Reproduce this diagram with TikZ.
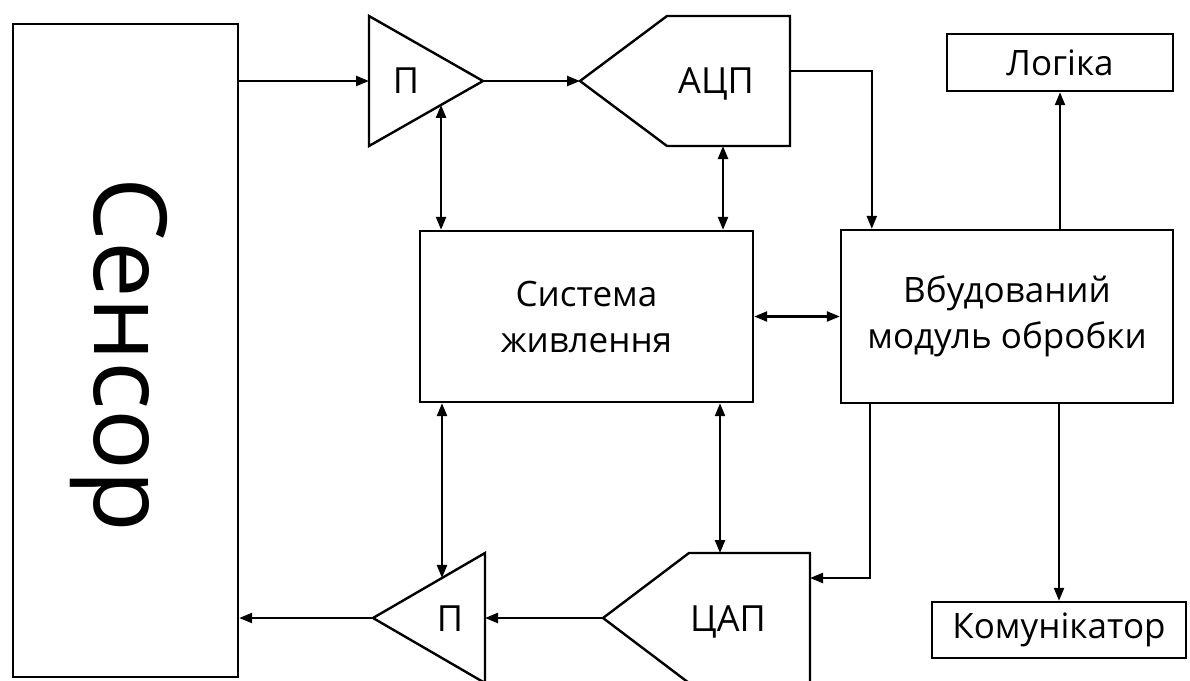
\documentclass[tikz,border=0pt]{standalone}
\usepackage{fontspec}
\setmainfont{Open Sans}
\usetikzlibrary{positioning, calc, arrows.meta}

\begin{document}
\begin{tikzpicture}[x=1pt, y=-1pt,
    box/.style={draw, line width=2.4pt, inner sep=0pt, align=center, font=\fontsize{35}{46}\selectfont},
    outline/.style={draw, line width=2.4pt, line join=miter},
    lbl/.style={anchor=base, inner sep=0pt, font=\fontsize{36}{46}\selectfont},
    link/.style={line width=2.4pt, -{Triangle[length=13pt, width=10pt]}},
    both/.style={line width=2.4pt, {Triangle[length=13pt, width=10pt]}-{Triangle[length=13pt, width=10pt]}}]
      \useasboundingbox (0,0) rectangle (1190,680);

      % blocks
      \node[box, minimum width=225pt, minimum height=653pt] (sensor) at (125.5,350.5) {};
      \node[rotate=-90, font=\fontsize{101}{101}\selectfont] (sensorlbl) at (119,355) {Сенсор};
      \node[box, minimum width=333pt, minimum height=171pt] (sys) at (586.5,316.5) {Система\\живлення};
      \node[box, minimum width=332pt, minimum height=173pt] (module) at (1007,316.5) {Вбудований\\модуль обробки};
      \node[box, minimum width=226pt, minimum height=57pt] (logic) at (1060,62.5) {Логіка};
      \node[box, minimum width=254pt, minimum height=56pt] (komun) at (1059,630) {Комунікатор};

      % top amplifier and ADC
      \coordinate (a1t) at (369,16);
      \coordinate (a1b) at (369,146);
      \coordinate (a1o) at (483,81);
      \draw[outline] (a1t) -- (a1o) -- (a1b) -- cycle;
      \node[lbl] (a1lbl) at (406,93) {П};
      \coordinate (adcin) at (580,81);
      \draw[outline] (adcin) -- (667,16) -- (790,16) -- (790,146) -- (667,146) -- cycle;
      \node[lbl] (adclbl) at (716,93) {АЦП};
      \coordinate (adcout) at (790,71);
      \coordinate (adcbot) at (723,146);
      \coordinate (a1tap) at ($(a1b)!0.632!(a1o)$);

      % bottom amplifier and DAC
      \coordinate (a2t) at (485,553);
      \coordinate (a2b) at (485,683);
      \coordinate (a2o) at (373,618);
      \draw[outline] (a2t) -- (a2o) -- (a2b) -- cycle;
      \node[lbl] (a2lbl) at (450,631) {П};
      \coordinate (dacout) at (603,618);
      \draw[outline] (dacout) -- (689,553) -- (810,553) -- (810,683) -- (689,683) -- cycle;
      \node[lbl] (daclbl) at (728,631) {ЦАП};
      \coordinate (dacin) at (810,578);
      \coordinate (dactop) at (720,553);
      \coordinate (a2tap) at ($(a2t)!0.384!(a2o)$);

      % connections
      \draw[link] (sensor.east |- a1o) -- (a1b |- a1o);
      \draw[link] (a1o) -- (adcin);
      \draw[link] (adcout) -| ($(module.north west)+(32,0)$);
      \draw[both] (a1tap) -- (a1tap |- sys.north);
      \draw[both] (adcbot) -- (adcbot |- sys.north);
      \draw[both] (sys) -- (module);
      \draw[link] (logic.south |- module.north) -- (logic.south);
      \draw[link] (komun.north |- module.south) -- (komun.north);
      \draw[link] ($(module.south west)+(30,0)$) |- (dacin);
      \draw[both] (a2tap |- sys.south) -- (a2tap);
      \draw[both] (dactop |- sys.south) -- (dactop);
      \draw[link] (dacout) -- (a2t |- dacout);
      \draw[link] (a2o) -- (sensor.east |- a2o);
\end{tikzpicture}
\end{document}
